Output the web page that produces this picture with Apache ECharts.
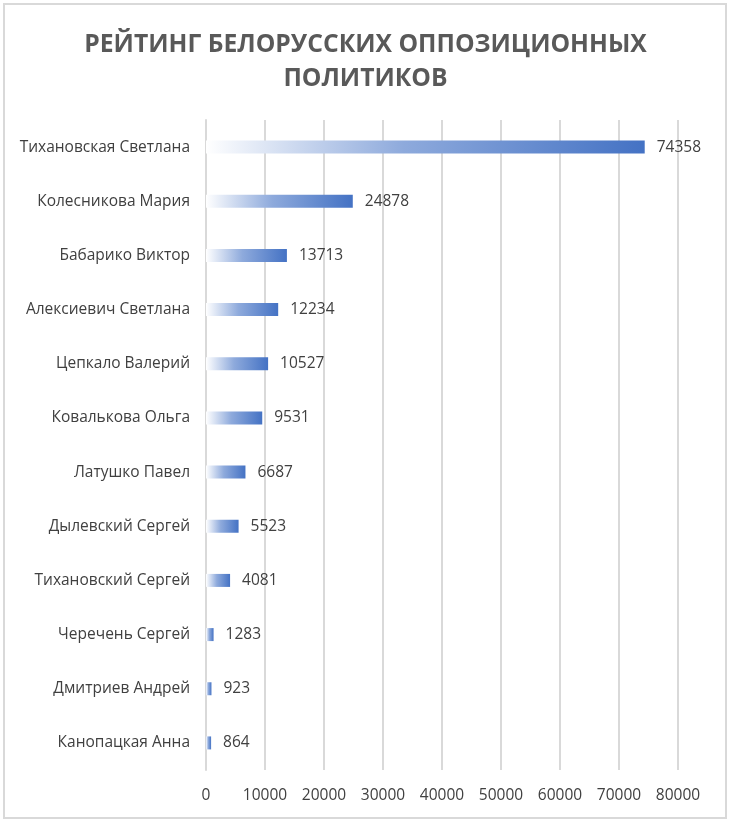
<!DOCTYPE html>
<html><head><meta charset="utf-8">
<script src="https://cdn.jsdelivr.net/npm/echarts@6/dist/echarts.min.js"></script>
<style>html,body{margin:0;padding:0;background:#fff}#c{width:731px;height:822px}</style>
</head><body><div id="c"></div>
<script>
const titleText = 'РЕЙТИНГ БЕЛОРУССКИХ ОППОЗИЦИОННЫХ\nПОЛИТИКОВ';
const categories = ['Тихановская Светлана','Колесникова Мария','Бабарико Виктор','Алексиевич Светлана','Цепкало Валерий','Ковалькова Ольга','Латушко Павел','Дылевский Сергей','Тихановский Сергей','Черечень Сергей','Дмитриев Андрей','Канопацкая Анна'];
const values = [74358,24878,13713,12234,10527,9531,6687,5523,4081,1283,923,864];
const font = '"Open Sans", sans-serif';
const chart = echarts.init(document.getElementById('c'));
chart.setOption({
  animation:false,
  backgroundColor:'#fff',
  graphic:[{type:'rect',shape:{x:4,y:4,width:722,height:814},style:{fill:'none',stroke:'#d9d9d9',lineWidth:2},z:-1}],
  title:{text:titleText,left:'center',top:23,textStyle:{fontFamily:font,fontSize:24.7,fontWeight:'bold',color:'#595959',lineHeight:34}},
  grid:{left:206,right:53,top:120,bottom:52,containLabel:false},
  xAxis:{type:'value',min:0,max:80000,interval:10000,
    axisLine:{show:false},axisTick:{show:false},
    axisLabel:{fontFamily:font,fontSize:15.5,color:'#404040',margin:18,formatter:v=>String(v)},
    splitLine:{lineStyle:{color:'#d9d9d9',width:2}}},
  yAxis:{type:'category',data:categories,inverse:true,
    axisLine:{show:true,lineStyle:{color:'#d9d9d9',width:2}},axisTick:{show:false},
    axisLabel:{fontFamily:font,fontSize:15.5,color:'#404040',margin:16}},
  series:[{type:'bar',data:values,barWidth:13,
    itemStyle:{color:{type:'linear',x:0,y:0,x2:1,y2:0,colorStops:[
      {offset:0,color:'rgba(255,255,255,1)'},{offset:0.45,color:'#8eaadc'},{offset:1,color:'#4472c4'}]}},
    label:{show:true,position:'right',distance:12,fontFamily:font,fontSize:15.5,color:'#404040'}}]
});
</script></body></html>
